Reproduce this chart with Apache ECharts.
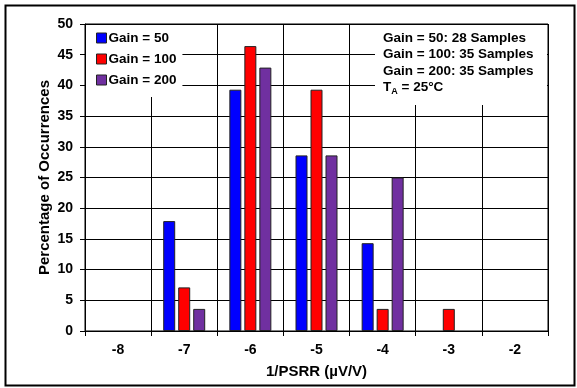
<!DOCTYPE html>
<html><head><meta charset="utf-8">
<script src="https://cdn.jsdelivr.net/npm/echarts@6/dist/echarts.min.js"></script>
<style>html,body{margin:0;padding:0;background:#fff}#c{width:577px;height:388px}</style>
</head><body><div id="c"></div>
<script>
const categories = ['-8','-7','-6','-5','-4','-3','-2'];
const gain50 = [0, 17.9, 39.3, 28.6, 14.3, 0, 0];
const gain100 = [0, 7.1, 46.4, 39.3, 3.6, 3.6, 0];
const gain200 = [0, 3.6, 42.9, 28.6, 25.0, 0, 0];
const seriesNames = ['Gain = 50', 'Gain = 100', 'Gain = 200'];
const yTicks = [0, 5, 10, 15, 20, 25, 30, 35, 40, 45, 50];

const F = 'Liberation Sans, Arial, sans-serif';
const chart = echarts.init(document.getElementById('c'), null, {renderer: 'canvas'});
const mk = (name, data, color) => ({
  name, type: 'bar', barWidth: 12, barGap: '25%',
  data: data.map(v => v === 0 ? {value: v, itemStyle: {borderWidth: 0, opacity: 0}} : v),
  itemStyle: {color, borderColor: '#222', borderWidth: 1}
});
chart.setOption({
  animation: false,
  grid: {left: 85, top: 24, right: 29, bottom: 57, show: true, borderColor: '#000', borderWidth: 1},
  legend: {
    orient: 'vertical', left: 86, top: 25, itemWidth: 10, itemHeight: 10, itemGap: 7,
    backgroundColor: '#fff', padding: [6, 6, 10, 10],
    data: seriesNames.map(n => ({name: n, icon: 'rect', itemStyle: {borderColor: '#222', borderWidth: 1}})),
    textStyle: {fontFamily: F, fontWeight: 'bold', fontSize: 13.5, color: '#000', padding: [0,0,0,-3]}
  },
  xAxis: {
    type: 'category', data: categories, name: '1/PSRR (µV/V)', nameLocation: 'middle', nameGap: 33,
    nameMoveOverlap: false,
    nameTextStyle: {fontFamily: F, fontWeight: 'bold', fontSize: 15, color: '#000'},
    axisLine: {lineStyle: {color: '#000'}},
    axisTick: {show: true, length: 5, lineStyle: {color: '#000'}},
    axisLabel: {fontFamily: F, fontWeight: 'bold', fontSize: 14, color: '#000', margin: 12},
    splitLine: {show: true, lineStyle: {color: '#000', width: 1}}
  },
  yAxis: {
    type: 'value', min: 0, max: 50, interval: 5, name: 'Percentage of Occurrences',
    nameLocation: 'middle', nameGap: 33, nameMoveOverlap: false,
    nameTextStyle: {fontFamily: F, fontWeight: 'bold', fontSize: 15, color: '#000'},
    axisLine: {show: true, lineStyle: {color: '#000'}},
    axisTick: {show: true, length: 5, lineStyle: {color: '#000'}},
    axisLabel: {fontFamily: F, fontWeight: 'bold', fontSize: 14, color: '#000', margin: 12,
      formatter: v => yTicks.includes(v) ? String(v) : ''},
    splitLine: {show: true, lineStyle: {color: '#000', width: 1}}
  },
  series: [mk(seriesNames[0], gain50, '#0000FF'), mk(seriesNames[1], gain100, '#FF0000'), mk(seriesNames[2], gain200, '#7030A0')],
  graphic: [
    {type: 'rect', left: 3, top: 3, shape: {width: 569, height: 380}, style: {fill: 'none', stroke: '#000', lineWidth: 2}, z: 100},
    {type: 'rect', left: 375, top: 25, shape: {width: 172, height: 80}, style: {fill: '#fff'}, z: 50},
    {type: 'text', left: 383, top: 30, z: 60, style: {
      text: 'Gain = 50: 28 Samples\nGain = 100: 35 Samples\nGain = 200: 35 Samples\n{t|T}{s|A}{t| = 25°C}',
      font: 'bold 13.5px ' + F, fill: '#000', lineHeight: 16.5,
      rich: {t: {font: 'bold 13.5px ' + F, fill: '#000'}, s: {font: 'bold 9px ' + F, fill: '#000', verticalAlign: 'bottom', padding: [6,0,0,0]}}
    }}
  ]
});
</script></body></html>
